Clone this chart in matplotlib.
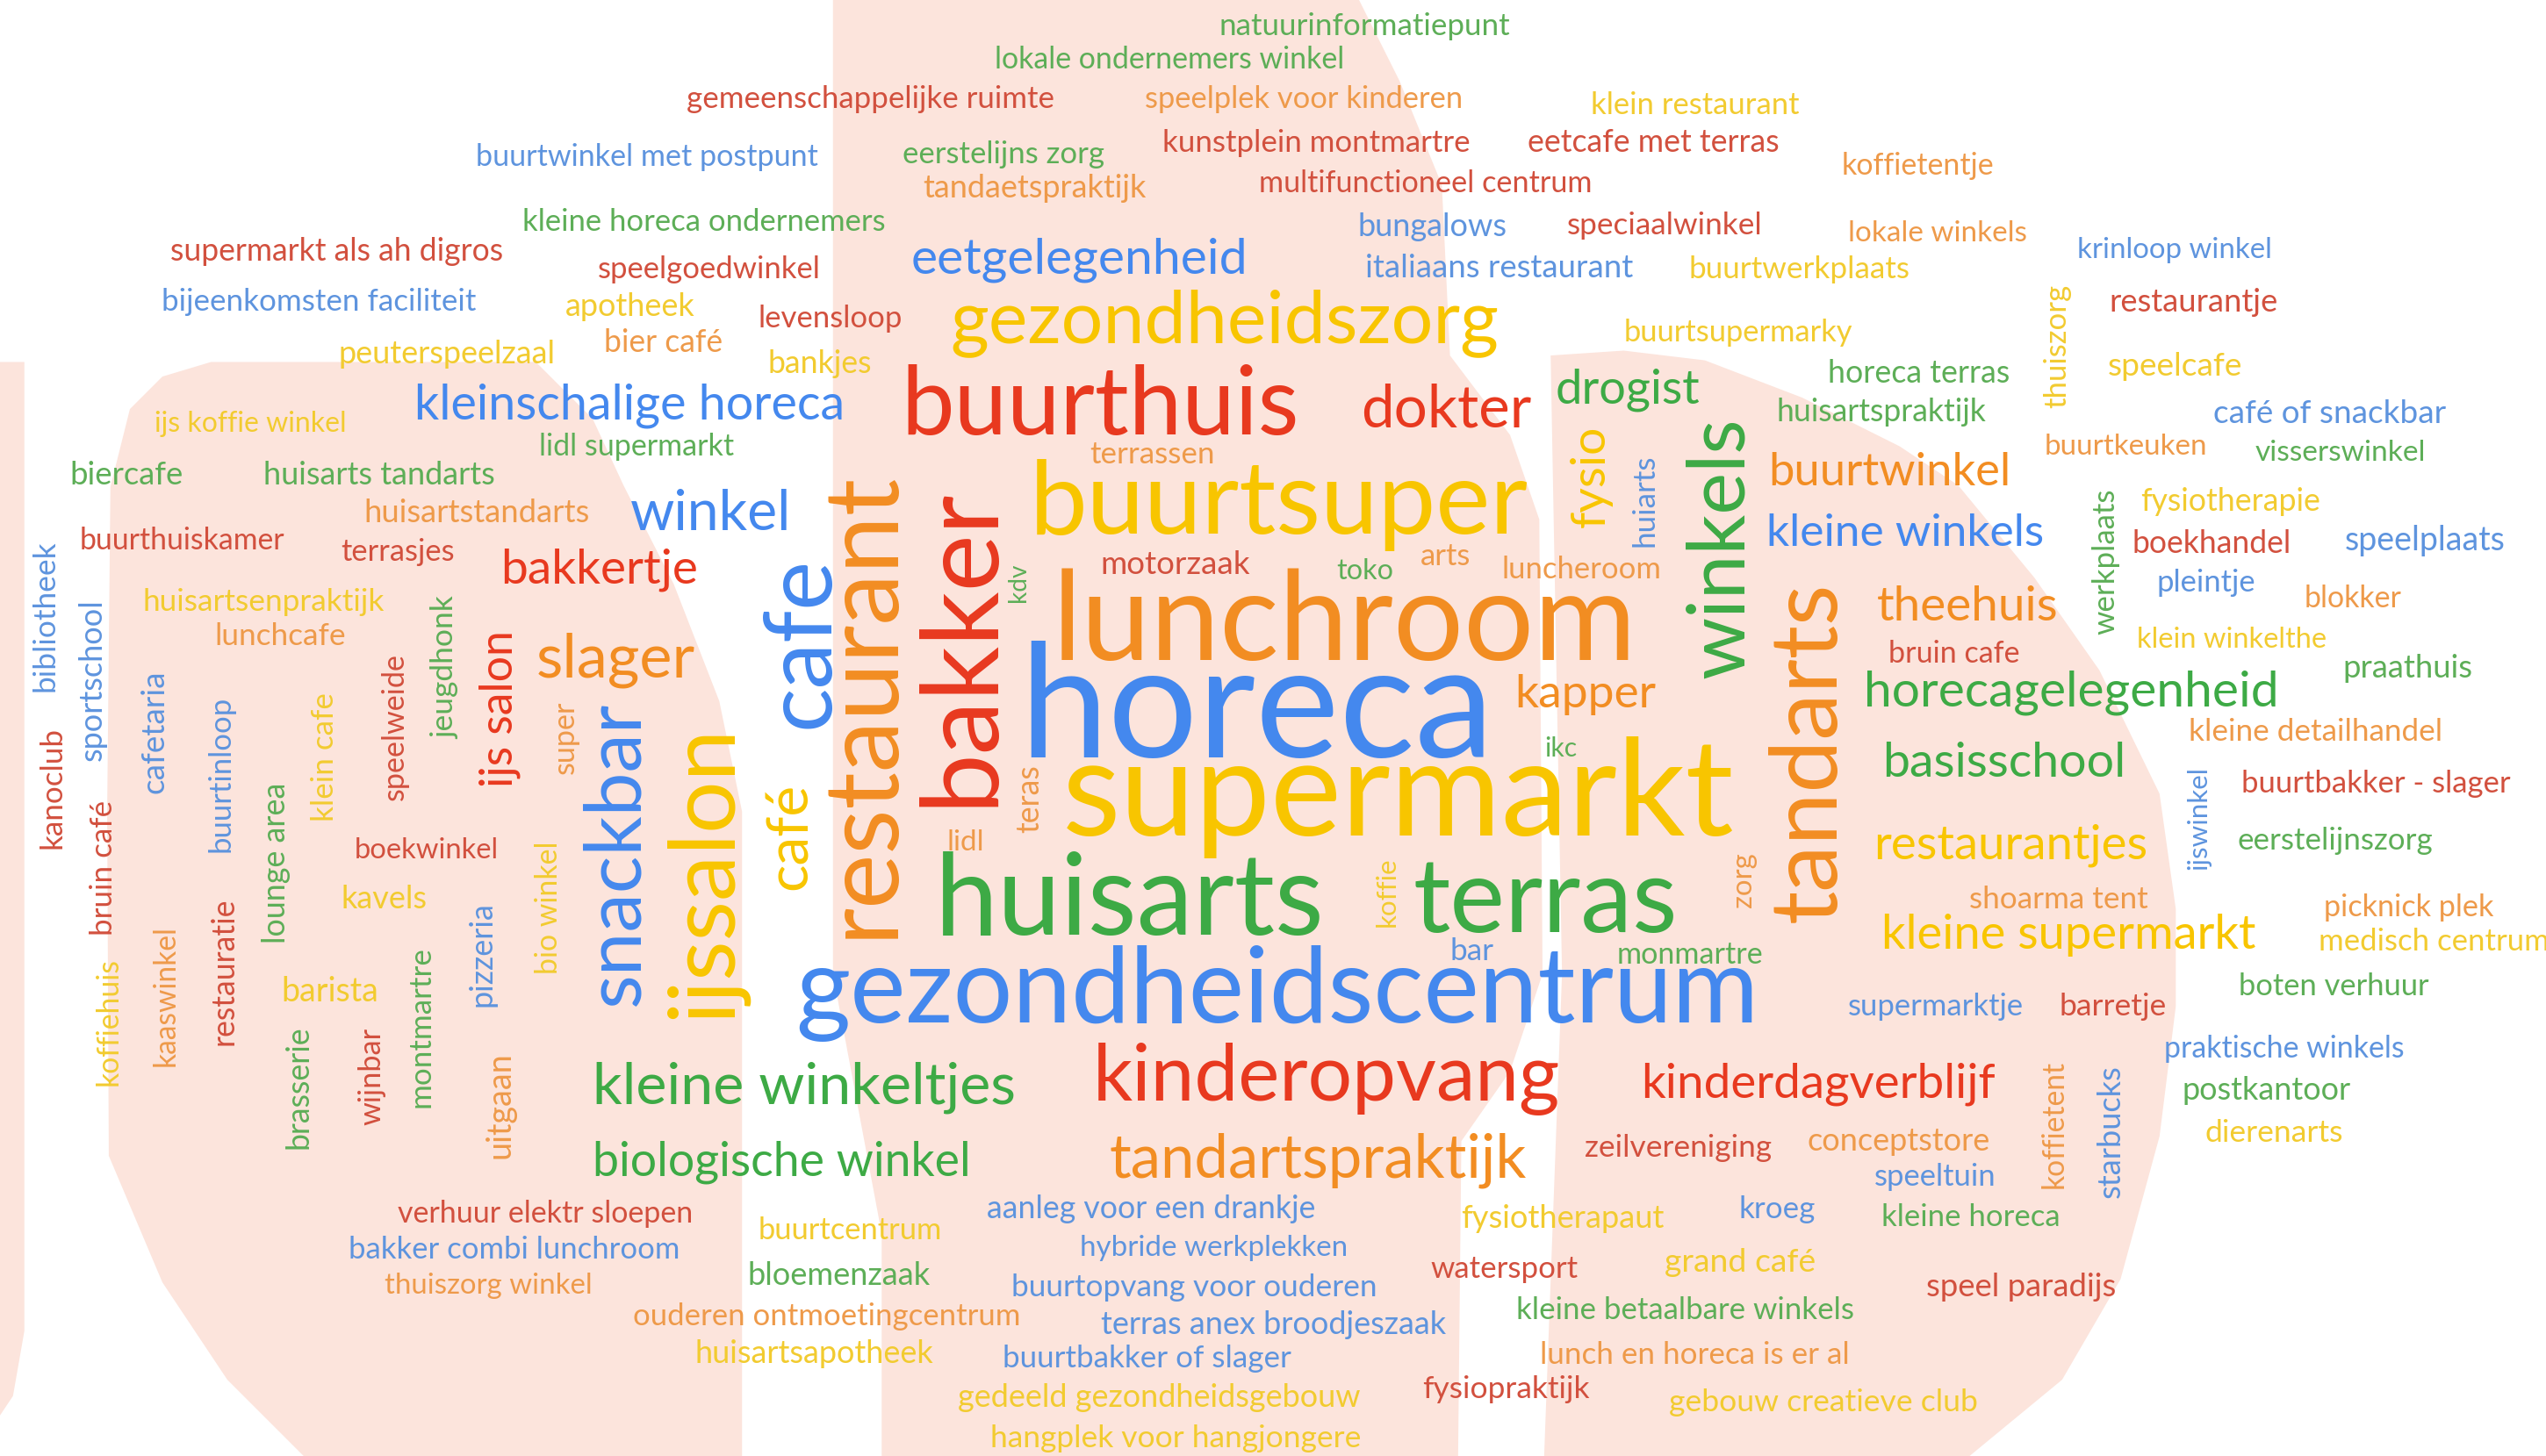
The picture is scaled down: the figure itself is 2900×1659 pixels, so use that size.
import matplotlib
matplotlib.use("Agg")
import matplotlib.pyplot as plt
from matplotlib.patches import Polygon
from matplotlib.font_manager import FontProperties

# ------------------------------------------------------------------ data
# horizontal words
h_words = [
    # 1-10
    "natuurinformatiepunt", "lokale ondernemers winkel", "gemeenschappelijke ruimte",
    "speelplek voor kinderen", "klein restaurant", "buurtwinkel met postpunt",
    "eerstelijns zorg", "kunstplein montmartre", "eetcafe met terras", "koffietentje",
    # 11-20
    "tandaetspraktijk", "multifunctioneel centrum", "kleine horeca ondernemers",
    "bungalows", "speciaalwinkel", "lokale winkels", "supermarkt als ah digros",
    "speelgoedwinkel", "eetgelegenheid", "italiaans restaurant",
    # 21-30
    "buurtwerkplaats", "krinloop winkel", "bijeenkomsten faciliteit", "apotheek",
    "levensloop", "gezondheidszorg", "buurtsupermarky", "restaurantje",
    "peuterspeelzaal", "bier café",
    # 31-40
    "bankjes", "speelcafe", "horeca terras", "buurthuis", "dokter", "drogist",
    "kleinschalige horeca", "huisartspraktijk", "café of snackbar", "ijs koffie winkel",
    # 41-50
    "lidl supermarkt", "terrassen", "buurtkeuken", "visserswinkel", "biercafe",
    "huisarts tandarts", "buurtwinkel", "buurtsuper", "huisartstandarts", "winkel",
    # 51-60
    "fysiotherapie", "kleine winkels", "boekhandel", "speelplaats", "buurthuiskamer",
    "terrasjes", "bakkertje", "motorzaak", "toko", "arts",
    # 61-70
    "luncheroom", "pleintje", "huisartsenpraktijk", "blokker", "theehuis",
    "lunchroom", "lunchcafe", "klein winkelthe", "slager", "bruin cafe",
    # 71-80
    "praathuis", "horeca", "kapper", "horecagelegenheid", "kleine detailhandel", "ikc",
    "basisschool", "buurtbakker - slager", "supermarkt", "boekwinkel",
    # 81-90
    "lidl", "restaurantjes", "eerstelijnszorg", "huisarts", "terras", "kavels",
    "shoarma tent", "picknick plek", "kleine supermarkt", "medisch centrum",
    # 91-100
    "bar", "monmartre", "barista", "boten verhuur", "gezondheidscentrum",
    "supermarktje", "barretje", "praktische winkels", "kleine winkeltjes", "kinderopvang",
    # 101-110
    "kinderdagverblijf", "postkantoor", "dierenarts", "biologische winkel",
    "tandartspraktijk", "zeilvereniging", "conceptstore", "speeltuin",
    "verhuur elektr sloepen", "aanleg voor een drankje",
    # 111-120
    "fysiotherapaut", "kroeg", "kleine horeca", "buurtcentrum", "bakker combi lunchroom",
    "hybride werkplekken", "bloemenzaak", "watersport", "grand café", "thuiszorg winkel",
    # 121-130
    "buurtopvang voor ouderen", "speel paradijs", "ouderen ontmoetingcentrum",
    "terras anex broodjeszaak", "kleine betaalbare winkels", "huisartsapotheek",
    "buurtbakker of slager", "lunch en horeca is er al", "gedeeld gezondheidsgebouw",
    "fysiopraktijk",
    # 131-132
    "gebouw creatieve club", "hangplek voor hangjongere",
]
h_colors = list(
    "GGROYBGRRO"   # 1-10
    "ORGBRORRBB"   # 11-20
    "YBBYRYYRYO"   # 21-30
    "YYGRRGBGBY"   # 31-40
    "GOOGGGOYOB"   # 41-50
    "YBRBRRRRGO"   # 51-60
    "OBYOOOOYOR"   # 61-70
    "GBOGOGGRYR"   # 71-80
    "OYGGGYOOYY"   # 81-90
    "BGYGBBRBGR"   # 91-100
    "RGYGOROBRB"   # 101-110
    "YBGYBBGRYO"   # 111-120
    "BROBGYBOYR"   # 121-130
    "YY"           # 131-132
)

# vertical words (reading bottom to top)
v_words = [
    "thuiszorg", "fysio", "huiarts", "winkels", "werkplaats", "kdv", "bibliotheek",
    "jeugdhonk", "cafe", "restaurant",
    "bakker", "sportschool", "ijs salon", "cafetaria", "speelweide", "klein cafe",
    "super", "snackbar", "buurtinloop", "kanoclub",
    "ijssalon", "café", "ijswinkel", "lounge area", "teras", "tandarts",
    "bruin café", "zorg", "bio winkel", "koffie",
    "pizzeria", "kaaswinkel", "restauratie", "montmartre", "koffiehuis", "brasserie",
    "wijnbar", "uitgaan", "koffietent", "starbucks",
]
v_colors = list(
    "YYBGGGBGBO"
    "RBRBRYOBBR"
    "YYBGOOROYY"
    "BORGYGROOB"
)

# ------------------------------------------------------------------ layout
# horizontal: (left, right, centre-y) in reference pixels (1568 x 897 frame)
h_layout = [
    (751, 930, 16), (613, 828, 37), (423, 649, 61), (705, 901, 61), (980, 1108, 65),
    (293, 504, 97), (556, 680, 95), (716, 905, 88), (941, 1096, 88), (1134, 1228, 102),
    (568, 706, 116), (775, 981, 113), (322, 545, 137), (836, 928, 140), (965, 1085, 139),
    (1138, 1248, 144), (105, 310, 155), (368, 505, 166), (561, 768, 160), (841, 1006, 165),
    (1040, 1176, 166), (1279, 1399, 154), (100, 293, 186), (348, 428, 189), (467, 556, 196),
    (585, 923, 199), (1000, 1141, 205), (1299, 1403, 186), (208, 342, 218),
    (372, 445, 211), (473, 537, 224), (1298, 1381, 226), (1126, 1238, 230), (555, 800, 251),
    (838, 943, 253), (958, 1047, 240), (255, 520, 250), (1094, 1223, 254), (1363, 1506, 255),
    (95, 213, 261), (332, 452, 275), (671, 748, 280), (1259, 1359, 275),
    (1389, 1494, 279), (43, 113, 293), (162, 305, 293), (1089, 1238, 291), (634, 941, 311),
    (224, 363, 316), (388, 487, 317), (1318, 1429, 309), (1088, 1259, 329), (1313, 1411, 335),
    (1444, 1543, 333), (49, 175, 333), (210, 280, 340), (308, 430, 351), (678, 770, 348),
    (823, 858, 352), (875, 906, 343), (925, 1023, 351), (1328, 1389, 359), (88, 237, 371),
    (1419, 1479, 369), (1156, 1268, 374), (648, 1008, 385), (132, 213, 392),
    (1316, 1433, 394), (330, 428, 407), (1163, 1244, 403), (1443, 1523, 412),
    (628, 920, 439), (933, 1020, 428), (1148, 1403, 427), (1348, 1504, 451), (951, 971, 461),
    (1159, 1309, 470), (1381, 1546, 483), (654, 1068, 491), (218, 307, 524), (583, 606, 519),
    (1154, 1323, 521), (1378, 1498, 518), (576, 816, 556), (870, 1033, 556), (210, 263, 554),
    (1213, 1323, 554), (1431, 1536, 559), (1159, 1389, 576), (1428, 1570, 580), (893, 920, 586),
    (996, 1086, 588), (173, 233, 611), (1379, 1496, 608), (490, 1083, 612), (1138, 1246, 620),
    (1268, 1334, 620), (1333, 1481, 646), (365, 626, 670), (673, 961, 665),
    (1011, 1229, 668), (1344, 1448, 672), (1358, 1443, 698), (365, 598, 716),
    (683, 940, 715), (976, 1091, 707), (1113, 1226, 703), (1154, 1229, 725),
    (245, 427, 748), (608, 810, 745), (900, 1025, 751), (1071, 1118, 745),
    (1159, 1269, 750), (467, 580, 758), (215, 418, 770), (665, 830, 769),
    (460, 573, 786), (881, 972, 782), (1025, 1118, 778), (237, 365, 792),
    (623, 848, 793), (1186, 1303, 793), (390, 628, 811),
    (678, 891, 816), (934, 1142, 807), (428, 575, 834),
    (618, 795, 837), (949, 1139, 835), (590, 838, 861),
    (876, 979, 856), (1028, 1218, 864), (610, 838, 886),
]
# vertical: (centre-x, top, bottom)
v_layout = [
    (1267, 175, 251), (980, 262, 325), (1013, 280, 337), (1060, 257, 418), (1297, 301, 391),
    (627, 347, 371), (28, 333, 426), (274, 367, 455), (494, 343, 449), (531, 290, 578),
    (592, 300, 497), (57, 369, 469), (308, 388, 485), (95, 413, 489), (243, 402, 493),
    (200, 427, 506), (348, 432, 477), (380, 432, 620), (136, 429, 525), (32, 448, 523),
    (434, 446, 628), (487, 482, 548), (1354, 472, 536), (170, 482, 581), (634, 471, 513),
    (1114, 358, 568), (64, 493, 576), (1074, 525, 559), (338, 518, 600), (854, 528, 571),
    (297, 555, 620), (102, 570, 657), (138, 553, 644), (259, 583, 682), (67, 590, 669),
    (184, 632, 708), (229, 633, 693), (308, 648, 714), (1265, 653, 732), (1300, 656, 738),
]

# ------------------------------------------------------------------ style
FONT = ["Lato", "DejaVu Sans"]
BIG = {"R": "#E8391F", "O": "#F28D22", "Y": "#F8C500", "G": "#3DAA45", "B": "#4488EE"}
SMALL = {"R": "#D2503E", "O": "#EE9A4A", "Y": "#F2CB30", "G": "#5DAE57", "B": "#5E94DE"}
PINK = "#FCE4DC"

W, H = 1568, 897
FIG_W, FIG_H = 2900, 1659
PX = FIG_W / W

fig = plt.figure(figsize=(FIG_W / 100, FIG_H / 100), dpi=100, facecolor="white")
ax = fig.add_axes([0, 0, 1, 1])
ax.set_xlim(0, W)
ax.set_ylim(H, 0)
ax.axis("off")

# pale background letter shapes
shapes = [
    [(0, 223), (15, 223), (15, 820), (8, 860), (0, 872)],
    [(130, 223), (330, 223), (365, 258), (384, 299), (415, 360), (443, 432), (457, 500),
     (457, 897), (187, 897), (140, 850), (100, 790), (67, 712), (66, 500), (68, 300),
     (80, 252), (100, 232)],
    [(513, 0), (837, 0), (862, 50), (888, 114), (893, 219), (930, 268), (948, 320),
     (950, 600), (930, 660), (900, 703), (898, 897), (543, 897), (543, 760), (513, 600)],
    [(955, 219), (1000, 216), (1050, 222), (1110, 245), (1170, 275), (1206, 299),
     (1253, 356), (1293, 413), (1330, 489), (1340, 560), (1340, 620), (1330, 700),
     (1306, 788), (1270, 850), (1213, 897), (951, 897), (962, 600)],
]
for pts in shapes:
    ax.add_patch(Polygon(pts, closed=True, facecolor=PINK, edgecolor="none", zorder=0))

renderer = fig.canvas.get_renderer()


def fit_size(word, extent):
    fp = FontProperties(family=FONT, size=100)
    w, _, _ = renderer.get_text_width_height_descent(word, fp, ismath=False)
    return 100.0 * extent * PX / w


def colour(key, size):
    return BIG[key] if size >= 30 else SMALL[key]


for word, key, (xl, xr, yc) in zip(h_words, h_colors, h_layout):
    fs = fit_size(word, xr - xl)
    ax.text((xl + xr) / 2, yc, word, fontsize=fs, color=colour(key, fs),
            family=FONT, ha="center", va="center", zorder=2)

for word, key, (xc, yt, yb) in zip(v_words, v_colors, v_layout):
    fs = fit_size(word, yb - yt)
    ax.text(xc, (yt + yb) / 2, word, fontsize=fs, color=colour(key, fs),
            family=FONT, ha="center", va="center", rotation=90,
            rotation_mode="anchor", zorder=2)

fig.savefig("out.png", dpi=100, facecolor="white")
